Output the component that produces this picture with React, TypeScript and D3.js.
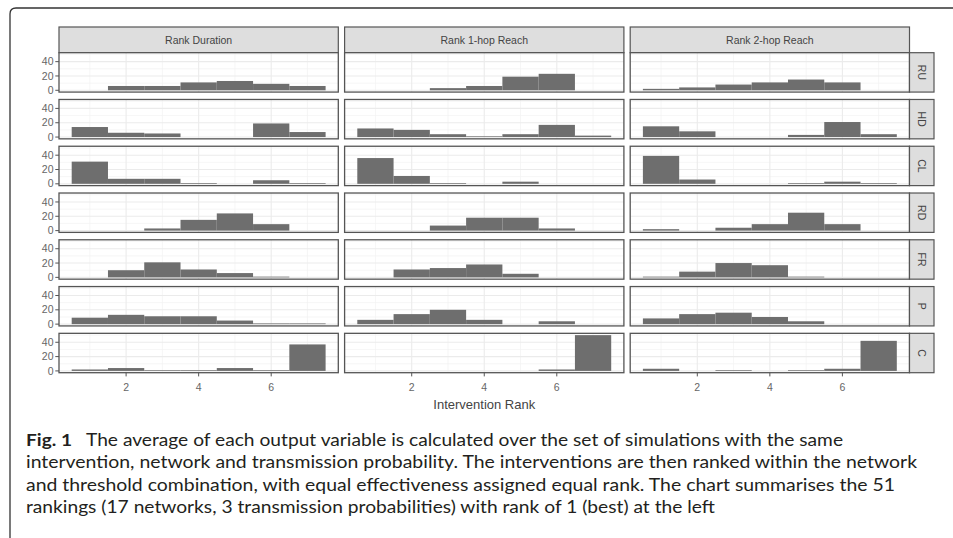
import React from "react";
import * as d3 from "d3";

// histogram of intervention ranks, faceted rows x cols like ggplot
const ranks = [1, 2, 3, 4, 5, 6, 7];
const facetCols = ["Rank Duration", "Rank 1-hop Reach", "Rank 2-hop Reach"];
const facetRows = ["RU", "HD", "CL", "RD", "FR", "P", "C"];

// counts for rank 1..7, one row per facetRows entry
const rankDuration = [
  [0, 6, 6, 11, 13, 9, 6],
  [14, 6, 5, 0, 0, 19, 7],
  [31, 7, 7, 1, 0, 5, 1],
  [0, 0, 3, 15, 24, 9, 0],
  [0, 10, 21, 11, 6, 1, 0],
  [9, 13, 11, 11, 5, 1, 1],
  [2, 4, 1, 1, 4, 1, 37],
];
const rank1hop = [
  [0, 0, 3, 6, 19, 23, 0],
  [12, 10, 4, 1, 4, 17, 2],
  [36, 11, 1, 0, 3, 0, 0],
  [0, 0, 7, 18, 18, 3, 0],
  [0, 11, 13, 18, 5, 0, 0],
  [6, 14, 20, 6, 0, 4, 0],
  [0, 0, 0, 0, 0, 2, 50],
];
const rank2hop = [
  [2, 4, 8, 11, 15, 11, 0],
  [15, 8, 0, 0, 3, 21, 4],
  [39, 6, 0, 0, 1, 3, 1],
  [2, 0, 4, 9, 25, 9, 0],
  [1, 8, 20, 17, 1, 0, 0],
  [8, 14, 16, 10, 4, 0, 0],
  [3, 0, 1, 0, 1, 3, 42],
];

const xTicks = [2, 4, 6];
const xMinor = [1, 3, 5, 7];
const yTicks = [0, 20, 40];
const yMinor = [10, 30, 50];

const captionLines = [
  "The average of each output variable is calculated over the set of simulations with the same",
  "intervention, network and transmission probability. The interventions are then ranked within the network",
  "and threshold combination, with equal effectiveness assigned equal rank. The chart summarises the 51",
  "rankings (17 networks, 3 transmission probabilities) with rank of 1 (best) at the left",
];
const captionEnds = [843, 917, 895, 715]; // right edge of each line in the figure

export default function App() {
  const W = 953, H = 538;
  const left = 59, right = 909.5, top = 52.7, bottom = 372.7;
  const gapX = 6.3, gapY = 7.4;
  const pw = (right - left - 2 * gapX) / 3;
  const ph = (bottom - top - 6 * gapY) / 7;
  const stripTop = 27;
  const stripW = 24.5;

  const colData = [rankDuration, rank1hop, rank2hop];

  // ggplot style expansion: 5% of data range on each side
  const lo = d3.min(ranks)! - 0.5, hi = d3.max(ranks)! + 0.5;
  const xpad = (hi - lo) * 0.05;
  const x = d3.scaleLinear().domain([lo - xpad, hi + xpad]).range([0, pw]);

  const ymax = d3.max(colData.flat(2))!;
  const y = d3.scaleLinear().domain([-0.05 * ymax, 1.05 * ymax]).range([ph, 0]);

  const font = "'Liberation Sans', Arial, sans-serif";
  const colX = (c: number) => left + c * (pw + gapX);
  const rowY = (r: number) => top + r * (ph + gapY);

  return (
    <svg width={W} height={H} style={{ position: "absolute", left: 0, top: 0, background: "#fff" }}>
      {/* outer frame of the figure */}
      <path d={`M10,${H} L10,14 Q10,8 16,8 L${W},8`} fill="none" stroke="#333" strokeWidth={1.3} />

      {facetCols.map((colName, c) => (
        <g key={colName}>
          <rect x={colX(c)} y={stripTop} width={pw} height={top - stripTop} fill="#dedede" stroke="#555" strokeWidth={1.2} />
          <text x={colX(c) + pw / 2} y={stripTop + 17.3} textAnchor="middle" fontFamily={font} fontSize={10.5} fill="#444">
            {colName}
          </text>
          {facetRows.map((rowName, r) => {
            const counts = colData[c][r];
            return (
              <g key={rowName} transform={`translate(${colX(c)},${rowY(r)})`}>
                <rect width={pw} height={ph} fill="#fff" />
                {yMinor.map((t) => (
                  <line key={"ym" + t} x1={0} x2={pw} y1={y(t)} y2={y(t)} stroke="#f2f2f2" strokeWidth={0.7} />
                ))}
                {xMinor.map((t) => (
                  <line key={"xm" + t} x1={x(t)} x2={x(t)} y1={0} y2={ph} stroke="#f2f2f2" strokeWidth={0.7} />
                ))}
                {yTicks.map((t) => (
                  <line key={"y" + t} x1={0} x2={pw} y1={y(t)} y2={y(t)} stroke="#ebebeb" strokeWidth={1.1} />
                ))}
                {xTicks.map((t) => (
                  <line key={"x" + t} x1={x(t)} x2={x(t)} y1={0} y2={ph} stroke="#ebebeb" strokeWidth={1.1} />
                ))}
                {ranks.map((k, i) => (
                  <rect
                    key={k}
                    x={x(k - 0.5)}
                    width={x(k + 0.5) - x(k - 0.5)}
                    y={y(counts[i])}
                    height={y(0) - y(counts[i])}
                    fill="#6e6e6e"
                  />
                ))}
                <rect width={pw} height={ph} fill="none" stroke="#555" strokeWidth={1.3} />
              </g>
            );
          })}
        </g>
      ))}

      {/* right strips */}
      {facetRows.map((rowName, r) => (
        <g key={"s" + rowName}>
          <rect x={right} y={rowY(r)} width={stripW} height={ph} fill="#dedede" stroke="#555" strokeWidth={1.2} />
          <text
            transform={`translate(${right + stripW / 2 - 3.8},${rowY(r) + ph / 2}) rotate(90)`}
            textAnchor="middle"
            fontFamily={font}
            fontSize={10.5}
            fill="#444"
          >
            {rowName}
          </text>
        </g>
      ))}

      {/* y axis, left column only */}
      {facetRows.map((rowName, r) => (
        <g key={"ya" + rowName} transform={`translate(${left},${rowY(r)})`}>
          {yTicks.map((t) => (
            <g key={t}>
              <line x1={-3.7} x2={0} y1={y(t)} y2={y(t)} stroke="#555" strokeWidth={1} />
              <text x={-5.5} y={y(t) + 3.6} textAnchor="end" fontFamily={font} fontSize={10.5} fill="#666">
                {t}
              </text>
            </g>
          ))}
        </g>
      ))}

      {/* x axis, bottom row */}
      {facetCols.map((colName, c) => (
        <g key={"xa" + colName} transform={`translate(${colX(c)},${bottom})`}>
          {xTicks.map((t) => (
            <g key={t}>
              <line x1={x(t)} x2={x(t)} y1={0} y2={3.7} stroke="#555" strokeWidth={1} />
              <text x={x(t)} y={18} textAnchor="middle" fontFamily={font} fontSize={10.5} fill="#666">
                {t}
              </text>
            </g>
          ))}
        </g>
      ))}

      <text x={(left + right) / 2} y={409} textAnchor="middle" fontFamily={font} fontSize={13} fill="#444">
        Intervention Rank
      </text>

      {/* caption */}
      <g fontFamily="Lato, 'Open Sans', sans-serif" fontSize={17.5} fill="#231f20">
        <text x={26} y={446} fontWeight="bold" textLength={46} lengthAdjust="spacingAndGlyphs">
          Fig. 1
        </text>
        {captionLines.map((line, i) => {
          const x0 = i === 0 ? 86 : 26;
          return (
            <text key={i} x={x0} y={446 + i * 22.3} textLength={captionEnds[i] - x0} lengthAdjust="spacingAndGlyphs">
              {line}
            </text>
          );
        })}
      </g>
    </svg>
  );
}
